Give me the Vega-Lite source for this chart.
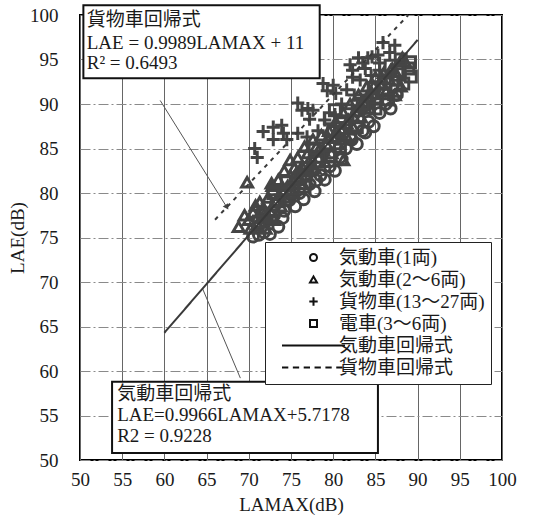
{
  "$schema": "https://vega.github.io/schema/vega-lite/v6.json",
  "width": 422,
  "height": 445,
  "autosize": {"type": "none"},
  "padding": {"left": 80, "top": 15, "right": 38, "bottom": 65},
  "background": "white",
  "config": {
    "font": "'Liberation Serif', 'Times New Roman', 'Noto Sans CJK JP', serif",
    "view": {"stroke": "black", "strokeWidth": 2},
    "axis": {
      "tickCount": 10,
      "domain": false,
      "ticks": false,
      "grid": true,
      "labelFont": "'Liberation Serif', 'Times New Roman', serif",
      "labelFontSize": 19,
      "labelColor": "#1a1a1a",
      "titleFont": "'Liberation Serif', 'Times New Roman', serif",
      "titleFontSize": 19,
      "titleFontWeight": "normal",
      "titleColor": "#1a1a1a",
      "labelFlush": false,
      "labelOverlap": false
    },
    "axisX": {"gridColor": "#666666", "gridWidth": 1, "labelPadding": 10, "titlePadding": 6},
    "axisY": {"gridColor": "#8a8a8a", "gridWidth": 1, "gridDash": [10, 3, 2, 3], "labelPadding": 22, "titlePadding": 2}
  },
  "datasets": {
    "points": [
      {"s": "気動車(1両)", "x": 70.5, "y": 75.1}, {"s": "気動車(1両)", "x": 71.2, "y": 75.3}, {"s": "気動車(1両)", "x": 71.8, "y": 75.6}, {"s": "気動車(1両)", "x": 72.5, "y": 75.4}, {"s": "気動車(1両)", "x": 72.0, "y": 76.8}, {"s": "気動車(1両)", "x": 73.0, "y": 77.5}, {"s": "気動車(1両)", "x": 73.5, "y": 76.2}, {"s": "気動車(1両)", "x": 74.2, "y": 78.0}, {"s": "気動車(1両)", "x": 74.8, "y": 79.2}, {"s": "気動車(1両)", "x": 75.5, "y": 78.5}, {"s": "気動車(1両)", "x": 76.0, "y": 80.0}, {"s": "気動車(1両)", "x": 76.5, "y": 79.3}, {"s": "気動車(1両)", "x": 77.2, "y": 81.0}, {"s": "気動車(1両)", "x": 77.8, "y": 80.2}, {"s": "気動車(1両)", "x": 78.5, "y": 82.0}, {"s": "気動車(1両)", "x": 79.0, "y": 81.5}, {"s": "気動車(1両)", "x": 79.6, "y": 83.0}, {"s": "気動車(1両)", "x": 80.2, "y": 82.5}, {"s": "気動車(1両)", "x": 80.8, "y": 84.0}, {"s": "気動車(1両)", "x": 81.5, "y": 85.0}, {"s": "気動車(1両)", "x": 82.2, "y": 86.0}, {"s": "気動車(1両)", "x": 82.8, "y": 85.5}, {"s": "気動車(1両)", "x": 83.5, "y": 87.0}, {"s": "気動車(1両)", "x": 84.2, "y": 88.0}, {"s": "気動車(1両)", "x": 84.8, "y": 87.5}, {"s": "気動車(1両)", "x": 85.5, "y": 89.0}, {"s": "気動車(1両)", "x": 86.2, "y": 90.0}, {"s": "気動車(1両)", "x": 86.8, "y": 89.5}, {"s": "気動車(1両)", "x": 87.5, "y": 91.0}, {"s": "気動車(1両)", "x": 74.0, "y": 77.2}, {"s": "気動車(1両)", "x": 75.0, "y": 79.8}, {"s": "気動車(1両)", "x": 78.0, "y": 81.4}, {"s": "気動車(1両)", "x": 81.0, "y": 83.8}, {"s": "気動車(1両)", "x": 83.8, "y": 86.8},
      {"s": "気動車(2～6両)", "x": 68.8, "y": 76.2}, {"s": "気動車(2～6両)", "x": 69.5, "y": 77.5}, {"s": "気動車(2～6両)", "x": 69.8, "y": 81.2}, {"s": "気動車(2～6両)", "x": 70.2, "y": 76.0}, {"s": "気動車(2～6両)", "x": 70.5, "y": 77.8}, {"s": "気動車(2～6両)", "x": 70.8, "y": 78.6}, {"s": "気動車(2～6両)", "x": 71.0, "y": 76.5}, {"s": "気動車(2～6両)", "x": 71.3, "y": 79.0}, {"s": "気動車(2～6両)", "x": 71.6, "y": 77.2}, {"s": "気動車(2～6両)", "x": 71.8, "y": 78.2}, {"s": "気動車(2～6両)", "x": 72.0, "y": 76.0}, {"s": "気動車(2～6両)", "x": 72.3, "y": 79.5}, {"s": "気動車(2～6両)", "x": 72.5, "y": 78.0}, {"s": "気動車(2～6両)", "x": 72.8, "y": 80.8}, {"s": "気動車(2～6両)", "x": 73.0, "y": 77.0}, {"s": "気動車(2～6両)", "x": 73.2, "y": 79.0}, {"s": "気動車(2～6両)", "x": 73.5, "y": 81.5}, {"s": "気動車(2～6両)", "x": 73.8, "y": 78.5}, {"s": "気動車(2～6両)", "x": 74.0, "y": 80.2}, {"s": "気動車(2～6両)", "x": 74.2, "y": 82.5}, {"s": "気動車(2～6両)", "x": 74.5, "y": 79.5}, {"s": "気動車(2～6両)", "x": 74.9, "y": 83.7}, {"s": "気動車(2～6両)", "x": 75.0, "y": 81.0}, {"s": "気動車(2～6両)", "x": 75.3, "y": 80.0}, {"s": "気動車(2～6両)", "x": 75.6, "y": 82.2}, {"s": "気動車(2～6両)", "x": 75.8, "y": 84.0}, {"s": "気動車(2～6両)", "x": 76.0, "y": 81.5}, {"s": "気動車(2～6両)", "x": 76.3, "y": 83.0}, {"s": "気動車(2～6両)", "x": 76.6, "y": 85.2}, {"s": "気動車(2～6両)", "x": 76.8, "y": 82.0}, {"s": "気動車(2～6両)", "x": 77.0, "y": 84.5}, {"s": "気動車(2～6両)", "x": 77.3, "y": 83.2}, {"s": "気動車(2～6両)", "x": 77.6, "y": 86.0}, {"s": "気動車(2～6両)", "x": 77.8, "y": 82.8}, {"s": "気動車(2～6両)", "x": 78.0, "y": 85.2}, {"s": "気動車(2～6両)", "x": 78.3, "y": 84.0}, {"s": "気動車(2～6両)", "x": 78.6, "y": 86.5}, {"s": "気動車(2～6両)", "x": 79.0, "y": 83.5}, {"s": "気動車(2～6両)", "x": 79.2, "y": 85.5}, {"s": "気動車(2～6両)", "x": 79.5, "y": 87.0}, {"s": "気動車(2～6両)", "x": 79.8, "y": 84.5}, {"s": "気動車(2～6両)", "x": 80.0, "y": 86.2}, {"s": "気動車(2～6両)", "x": 80.3, "y": 88.0}, {"s": "気動車(2～6両)", "x": 80.6, "y": 85.5}, {"s": "気動車(2～6両)", "x": 80.9, "y": 87.2}, {"s": "気動車(2～6両)", "x": 81.2, "y": 89.0}, {"s": "気動車(2～6両)", "x": 81.5, "y": 86.5}, {"s": "気動車(2～6両)", "x": 81.8, "y": 88.2}, {"s": "気動車(2～6両)", "x": 82.0, "y": 90.0}, {"s": "気動車(2～6両)", "x": 82.3, "y": 87.5}, {"s": "気動車(2～6両)", "x": 82.6, "y": 89.2}, {"s": "気動車(2～6両)", "x": 83.0, "y": 91.0}, {"s": "気動車(2～6両)", "x": 83.3, "y": 88.5}, {"s": "気動車(2～6両)", "x": 83.6, "y": 90.2}, {"s": "気動車(2～6両)", "x": 84.0, "y": 92.0}, {"s": "気動車(2～6両)", "x": 84.3, "y": 89.5}, {"s": "気動車(2～6両)", "x": 84.6, "y": 91.2}, {"s": "気動車(2～6両)", "x": 85.0, "y": 93.0}, {"s": "気動車(2～6両)", "x": 85.3, "y": 90.5}, {"s": "気動車(2～6両)", "x": 85.6, "y": 92.2}, {"s": "気動車(2～6両)", "x": 86.0, "y": 93.5}, {"s": "気動車(2～6両)", "x": 86.3, "y": 91.5}, {"s": "気動車(2～6両)", "x": 86.6, "y": 92.8}, {"s": "気動車(2～6両)", "x": 87.0, "y": 94.0}, {"s": "気動車(2～6両)", "x": 87.3, "y": 91.0}, {"s": "気動車(2～6両)", "x": 87.6, "y": 93.2}, {"s": "気動車(2～6両)", "x": 88.0, "y": 92.0}, {"s": "気動車(2～6両)", "x": 88.5, "y": 94.8}, {"s": "気動車(2～6両)", "x": 88.2, "y": 95.2}, {"s": "気動車(2～6両)", "x": 70.0, "y": 77.0}, {"s": "気動車(2～6両)", "x": 71.5, "y": 78.0}, {"s": "気動車(2～6両)", "x": 72.2, "y": 77.2}, {"s": "気動車(2～6両)", "x": 73.6, "y": 79.8}, {"s": "気動車(2～6両)", "x": 74.6, "y": 80.8}, {"s": "気動車(2～6両)", "x": 75.4, "y": 82.8}, {"s": "気動車(2～6両)", "x": 76.2, "y": 82.5}, {"s": "気動車(2～6両)", "x": 77.4, "y": 84.0}, {"s": "気動車(2～6両)", "x": 78.4, "y": 85.0}, {"s": "気動車(2～6両)", "x": 79.4, "y": 86.2}, {"s": "気動車(2～6両)", "x": 80.4, "y": 87.0}, {"s": "気動車(2～6両)", "x": 81.0, "y": 86.0}, {"s": "気動車(2～6両)", "x": 81.6, "y": 87.8}, {"s": "気動車(2～6両)", "x": 82.4, "y": 88.6}, {"s": "気動車(2～6両)", "x": 83.2, "y": 89.8}, {"s": "気動車(2～6両)", "x": 84.0, "y": 90.8}, {"s": "気動車(2～6両)", "x": 84.8, "y": 92.0}, {"s": "気動車(2～6両)", "x": 85.8, "y": 92.9}, {"s": "気動車(2～6両)", "x": 86.8, "y": 93.8}, {"s": "気動車(2～6両)", "x": 87.8, "y": 94.5}, {"s": "気動車(2～6両)", "x": 78.8, "y": 84.8}, {"s": "気動車(2～6両)", "x": 76.4, "y": 81.0}, {"s": "気動車(2～6両)", "x": 77.0, "y": 82.5}, {"s": "気動車(2～6両)", "x": 81.2, "y": 83.7}, {"s": "気動車(2～6両)", "x": 72.7, "y": 81.1},
      {"s": "貨物車(13～27両)", "x": 70.7, "y": 85.0}, {"s": "貨物車(13～27両)", "x": 71.0, "y": 84.0}, {"s": "貨物車(13～27両)", "x": 71.7, "y": 86.9}, {"s": "貨物車(13～27両)", "x": 72.9, "y": 87.4}, {"s": "貨物車(13～27両)", "x": 72.9, "y": 86.0}, {"s": "貨物車(13～27両)", "x": 73.9, "y": 87.6}, {"s": "貨物車(13～27両)", "x": 74.1, "y": 86.7}, {"s": "貨物車(13～27両)", "x": 74.5, "y": 86.0}, {"s": "貨物車(13～27両)", "x": 75.8, "y": 86.7}, {"s": "貨物車(13～27両)", "x": 76.9, "y": 86.3}, {"s": "貨物車(13～27両)", "x": 75.8, "y": 90.1}, {"s": "貨物車(13～27両)", "x": 76.3, "y": 89.3}, {"s": "貨物車(13～27両)", "x": 77.0, "y": 89.5}, {"s": "貨物車(13～27両)", "x": 77.6, "y": 89.3}, {"s": "貨物車(13～27両)", "x": 77.2, "y": 88.3}, {"s": "貨物車(13～27両)", "x": 78.8, "y": 92.3}, {"s": "貨物車(13～27両)", "x": 79.3, "y": 91.5}, {"s": "貨物車(13～27両)", "x": 80.0, "y": 92.1}, {"s": "貨物車(13～27両)", "x": 80.3, "y": 91.2}, {"s": "貨物車(13～27両)", "x": 81.6, "y": 91.6}, {"s": "貨物車(13～27両)", "x": 82.0, "y": 94.4}, {"s": "貨物車(13～27両)", "x": 82.3, "y": 93.0}, {"s": "貨物車(13～27両)", "x": 83.0, "y": 95.2}, {"s": "貨物車(13～27両)", "x": 83.5, "y": 94.6}, {"s": "貨物車(13～27両)", "x": 84.1, "y": 95.2}, {"s": "貨物車(13～27両)", "x": 83.8, "y": 94.0}, {"s": "貨物車(13～27両)", "x": 84.6, "y": 95.3}, {"s": "貨物車(13～27両)", "x": 85.3, "y": 95.5}, {"s": "貨物車(13～27両)", "x": 85.9, "y": 96.9}, {"s": "貨物車(13～27両)", "x": 85.5, "y": 94.6}, {"s": "貨物車(13～27両)", "x": 86.7, "y": 95.8}, {"s": "貨物車(13～27両)", "x": 87.3, "y": 96.6}, {"s": "貨物車(13～27両)", "x": 82.3, "y": 93.8}, {"s": "貨物車(13～27両)", "x": 83.2, "y": 92.7}, {"s": "貨物車(13～27両)", "x": 85.5, "y": 93.8}, {"s": "貨物車(13～27両)", "x": 84.5, "y": 93.2}, {"s": "貨物車(13～27両)", "x": 81.0, "y": 90.0}, {"s": "貨物車(13～27両)", "x": 80.2, "y": 88.8}, {"s": "貨物車(13～27両)", "x": 79.0, "y": 88.2}, {"s": "貨物車(13～27両)", "x": 82.5, "y": 91.0}, {"s": "貨物車(13～27両)", "x": 78.2, "y": 87.0},
      {"s": "電車(3～6両)", "x": 89.1, "y": 94.7}, {"s": "電車(3～6両)", "x": 88.9, "y": 94.0}, {"s": "電車(3～6両)", "x": 89.2, "y": 93.1}, {"s": "電車(3～6両)", "x": 88.3, "y": 92.3}, {"s": "電車(3～6両)", "x": 87.5, "y": 91.5}, {"s": "電車(3～6両)", "x": 87.7, "y": 93.7}, {"s": "電車(3～6両)", "x": 86.1, "y": 92.3}, {"s": "電車(3～6両)", "x": 85.9, "y": 91.2}, {"s": "電車(3～6両)", "x": 84.0, "y": 90.4}, {"s": "電車(3～6両)", "x": 84.2, "y": 89.6}, {"s": "電車(3～6両)", "x": 85.0, "y": 89.5}, {"s": "電車(3～6両)", "x": 83.0, "y": 88.5}, {"s": "電車(3～6両)", "x": 82.8, "y": 87.4}, {"s": "電車(3～6両)", "x": 82.0, "y": 86.3}, {"s": "電車(3～6両)", "x": 80.8, "y": 87.3}, {"s": "電車(3～6両)", "x": 80.0, "y": 86.9}, {"s": "電車(3～6両)", "x": 80.8, "y": 85.2}, {"s": "電車(3～6両)", "x": 79.6, "y": 84.1}, {"s": "電車(3～6両)", "x": 76.9, "y": 82.8}, {"s": "電車(3～6両)", "x": 76.1, "y": 81.8}, {"s": "電車(3～6両)", "x": 76.6, "y": 80.7}, {"s": "電車(3～6両)", "x": 74.5, "y": 81.2}, {"s": "電車(3～6両)", "x": 72.9, "y": 80.0}, {"s": "電車(3～6両)", "x": 73.3, "y": 79.2}, {"s": "電車(3～6両)", "x": 71.7, "y": 77.7}, {"s": "電車(3～6両)", "x": 71.2, "y": 76.8}, {"s": "電車(3～6両)", "x": 72.6, "y": 77.4}, {"s": "電車(3～6両)", "x": 81.6, "y": 89.3}, {"s": "電車(3～6両)", "x": 80.2, "y": 89.3}, {"s": "電車(3～6両)", "x": 79.6, "y": 88.4}, {"s": "電車(3～6両)", "x": 86.8, "y": 94.3}, {"s": "電車(3～6両)", "x": 88.0, "y": 95.0}, {"s": "電車(3～6両)", "x": 86.5, "y": 90.5}, {"s": "電車(3～6両)", "x": 84.8, "y": 91.8}, {"s": "電車(3～6両)", "x": 83.5, "y": 90.0}, {"s": "電車(3～6両)", "x": 78.0, "y": 83.5}, {"s": "電車(3～6両)", "x": 75.2, "y": 80.5}, {"s": "電車(3～6両)", "x": 77.8, "y": 85.0}
    ],
    "lines": [
      {"s": "気動車回帰式", "x": 60, "y": 64.3},
      {"s": "気動車回帰式", "x": 90, "y": 97.2},
      {"s": "貨物車回帰式", "x": 66, "y": 77.0},
      {"s": "貨物車回帰式", "x": 88.9, "y": 100}
    ],
    "boxes": [
      {"id": "貨物車", "x": 50.4, "xe": 78.4, "y": 101.1, "ye": 92.9},
      {"id": "気動車", "x": 53.8, "xe": 85.3, "y": 58.8, "ye": 50.8}
    ],
    "texts": [
      {"x": 50.8, "y": 99.4, "text": "貨物車回帰式"},
      {"x": 50.8, "y": 96.9, "text": "LAE = 0.9989LAMAX + 11"},
      {"x": 50.8, "y": 94.6, "text": "R² = 0.6493"},
      {"x": 54.4, "y": 57.4, "text": "気動車回帰式"},
      {"x": 54.4, "y": 55.1, "text": "LAE=0.9966LAMAX+5.7178"},
      {"x": 54.4, "y": 52.7, "text": "R2 = 0.9228"}
    ],
    "arrows": [
      {"id": "貨物車", "x": 59.5, "y": 90.4, "xe": 67.4, "ye": 78.4},
      {"id": "気動車", "x": 69.0, "y": 59.2, "xe": 64.5, "ye": 69.3}
    ]
  },
  "layer": [
    {
      "data": {"name": "arrows"},
      "mark": {"type": "rule", "color": "#555555", "strokeWidth": 1},
      "encoding": {
        "x": {"field": "x", "type": "quantitative", "scale": {"domain": [50, 100], "nice": false}, "title": "LAMAX(dB)"},
        "y": {"field": "y", "type": "quantitative", "scale": {"domain": [50, 100], "nice": false}, "title": "LAE(dB)"},
        "x2": {"field": "xe"},
        "y2": {"field": "ye"}
      }
    },
    {
      "data": {"name": "arrows"},
      "transform": [{"filter": "datum.id === '貨物車'"}],
      "mark": {"type": "point", "shape": "triangle-up", "filled": true, "color": "#444444", "size": 40, "angle": 148, "opacity": 1},
      "encoding": {
        "x": {"field": "xe", "type": "quantitative", "scale": {"domain": [50, 100], "nice": false}, "title": "LAMAX(dB)"},
        "y": {"field": "ye", "type": "quantitative", "scale": {"domain": [50, 100], "nice": false}, "title": "LAE(dB)"}
      }
    },
    {
      "data": {"name": "boxes"},
      "mark": {"type": "rect", "fill": "white", "stroke": "#111111", "strokeWidth": 2},
      "encoding": {
        "x": {"field": "x", "type": "quantitative", "scale": {"domain": [50, 100], "nice": false}, "title": "LAMAX(dB)"},
        "x2": {"field": "xe"},
        "y": {"field": "y", "type": "quantitative", "scale": {"domain": [50, 100], "nice": false}, "title": "LAE(dB)"},
        "y2": {"field": "ye"}
      }
    },
    {
      "data": {"name": "texts"},
      "mark": {"type": "text", "align": "left", "baseline": "middle", "font": "'Liberation Serif', 'Times New Roman', 'Noto Sans CJK JP', serif", "fontSize": 19, "color": "#1a1a1a"},
      "encoding": {
        "x": {"field": "x", "type": "quantitative", "scale": {"domain": [50, 100], "nice": false}, "title": "LAMAX(dB)"},
        "y": {"field": "y", "type": "quantitative", "scale": {"domain": [50, 100], "nice": false}, "title": "LAE(dB)"},
        "text": {"field": "text"}
      }
    },
    {
      "data": {"name": "points"},
      "mark": {"type": "point", "filled": false, "color": "#454545", "strokeWidth": 3, "size": 120, "opacity": 1},
      "encoding": {
        "x": {"field": "x", "type": "quantitative", "scale": {"domain": [50, 100], "nice": false}, "title": "LAMAX(dB)"},
        "y": {"field": "y", "type": "quantitative", "scale": {"domain": [50, 100], "nice": false}, "title": "LAE(dB)"},
        "shape": {
          "field": "s",
          "type": "nominal",
          "scale": {
            "domain": ["気動車(1両)", "気動車(2～6両)", "貨物車(13～27両)", "電車(3～6両)", "気動車回帰式", "貨物車回帰式"],
            "range": ["circle", "triangle-up", "M-1.2,0H1.2M0,-1.2V1.2", "square", "M-9,0H9", "M-9,0H-7.2M-5.9,0H-4.1M-2.8,0H-1M0.3,0H2.1M3.4,0H5.2M6.5,0H8.3"]
          },
          "legend": {
            "title": null,
            "orient": "none",
            "legendX": 185,
            "legendY": 227,
            "strokeColor": "#222222",
            "fillColor": "white",
            "padding": 6,
            "symbolOffset": 33,
            "labelOffset": 16,
            "labelFont": "'Liberation Serif', 'Times New Roman', 'Noto Sans CJK JP', serif",
            "labelFontSize": 19,
            "labelColor": "#1a1a1a",
            "labelLimit": 300,
            "symbolSize": 49,
            "symbolStrokeWidth": 2,
            "symbolStrokeColor": "#111111",
            "symbolFillColor": "transparent",
            "rowPadding": 2
          }
        }
      }
    },
    {
      "data": {"name": "lines"},
      "mark": {"type": "line", "color": "#3a3a3a", "strokeWidth": 2},
      "encoding": {
        "x": {"field": "x", "type": "quantitative", "scale": {"domain": [50, 100], "nice": false}, "title": "LAMAX(dB)"},
        "y": {"field": "y", "type": "quantitative", "scale": {"domain": [50, 100], "nice": false}, "title": "LAE(dB)"},
        "detail": {"field": "s"},
        "strokeDash": {"field": "s", "type": "nominal", "scale": {"domain": ["気動車回帰式", "貨物車回帰式"], "range": [[1, 0], [4, 5]]}, "legend": null}
      }
    }
  ]
}
